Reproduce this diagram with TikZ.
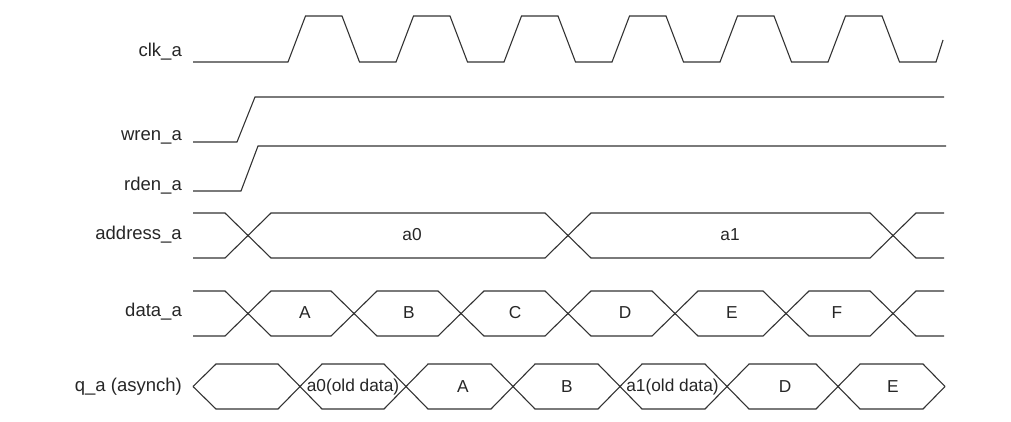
\documentclass[tikz,border=0pt]{standalone}
\usepackage{fontspec}
\setmainfont{Liberation Sans}
\begin{document}
\begin{tikzpicture}[x=1pt,y=-1pt,
  wave/.style={line width=1.1pt, draw=black!80, line join=miter},
  lbl/.style={anchor=east, font=\fontsize{18.5}{21}\selectfont, inner sep=0pt, text=black!85},
  val/.style={font=\fontsize{17.3}{20}\selectfont, inner sep=0pt, text=black!85}]
\useasboundingbox (0,0) rectangle (1011,421);
% labels
\node[lbl] (lclk) at (182,52) {clk\_a};
\node[lbl] (lwren) at (182,137) {wren\_a};
\node[lbl] (lrden) at (182,186) {rden\_a};
\node[lbl] (laddr) at (182,235) {address\_a};
\node[lbl] (ldata) at (182,312) {data\_a};
\node[lbl] (lq) at (182,387) {q\_a (asynch)};
% clock
\draw[wave] (193,62)
  \foreach \k [evaluate=\k as \r using 288+108*\k] in {0,...,5} {
    -- (\r,62) -- (\r+17.5,16) -- (\r+54,16) -- (\r+71.5,62) }
  -- (936,62) -- (943,40);
% wren, rden
\draw[wave] (193,142) -- (237,142) -- (255,97) -- (944,97);
\draw[wave] (193,191) -- (241,191) -- (258,146) -- (946,146);
% address
\draw[wave] (193,213) -- (225,213) -- (271,258) -- (545,258) -- (591,213) -- (870,213) -- (916,258) -- (944,258);
\draw[wave] (193,258) -- (225,258) -- (271,213) -- (545,213) -- (591,258) -- (870,258) -- (916,213) -- (944,213);
\node[val] (va0) at (412,235) {a0};
\node[val] (va1) at (730,235) {a1};
% data
\draw[wave] (193,291) -- (225,291) -- (271,336) -- (331,336) -- (377,291) -- (438,291) -- (484,336) -- (545,336) -- (591,291) -- (652,291) -- (698,336) -- (763,336) -- (809,291) -- (870,291) -- (916,336) -- (944,336);
\draw[wave] (193,336) -- (225,336) -- (271,291) -- (331,291) -- (377,336) -- (438,336) -- (484,291) -- (545,291) -- (591,336) -- (652,336) -- (698,291) -- (763,291) -- (809,336) -- (870,336) -- (916,291) -- (944,291);
\node[val] (vA) at (305,313) {A};
\node[val] (vB) at (409,313) {B};
\node[val] (vC) at (515,313) {C};
\node[val] (vD) at (625,313) {D};
\node[val] (vE) at (732,313) {E};
\node[val] (vF) at (837,313) {F};
% q_a
\draw[wave] (193,386.5) -- (216,364) -- (278,364) -- (322,409) -- (384,409) -- (428,364) -- (491,364) -- (535,409) -- (598,409) -- (642,364) -- (705,364) -- (749,409) -- (816,409) -- (860,364) -- (923,364) -- (945,386.5);
\draw[wave] (193,386.5) -- (216,409) -- (278,409) -- (322,364) -- (384,364) -- (428,409) -- (491,409) -- (535,364) -- (598,364) -- (642,409) -- (705,409) -- (749,364) -- (816,364) -- (860,409) -- (923,409) -- (945,386.5);
\node[val] (qa0) at (353,387) {a0(old data)};
\node[val] (qA) at (463,387) {A};
\node[val] (qB) at (567,387) {B};
\node[val] (qa1) at (672.5,387) {a1(old data)};
\node[val] (qD) at (785,387) {D};
\node[val] (qE) at (893,387) {E};
\end{tikzpicture}
\end{document}
